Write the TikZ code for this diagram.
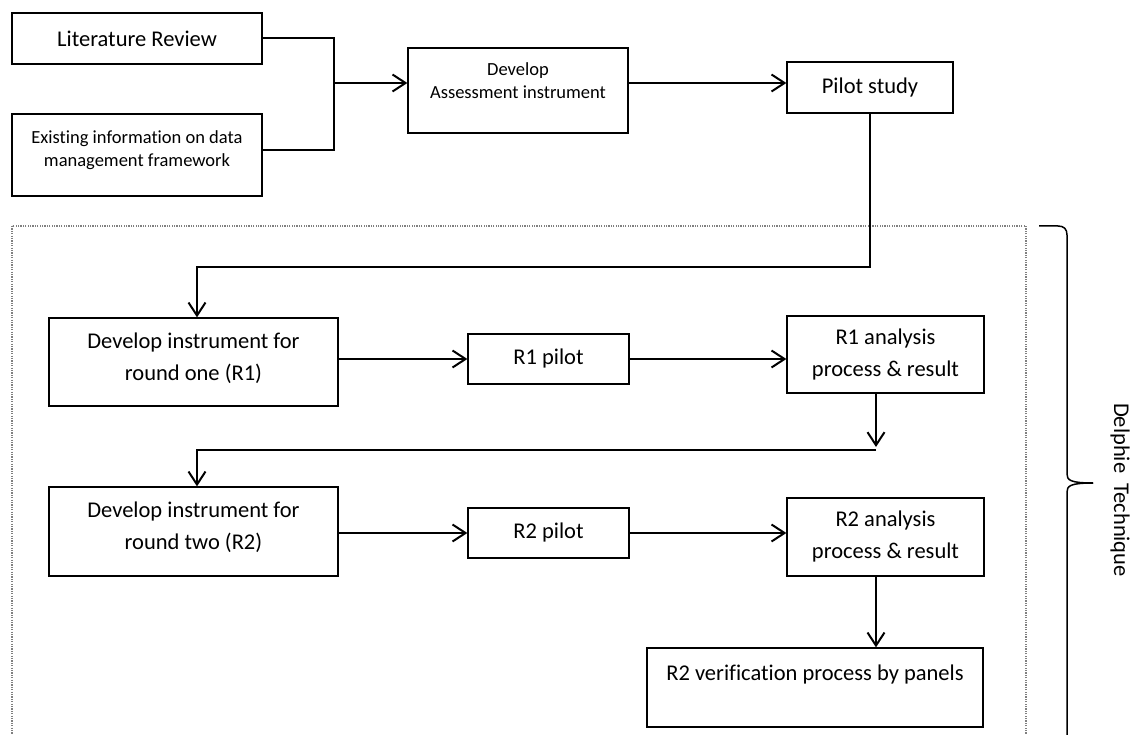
\documentclass[tikz,border=0pt]{standalone}
\usepackage{fontspec}
\setmainfont{Carlito}[Ligatures=NoCommon]
\usetikzlibrary{arrows.meta}

\tikzset{
  box/.style={draw, line width=1.3pt, inner sep=0pt, align=center, font=\fontsize{22.5}{32}\selectfont},
  smallbox/.style={box, font=\fontsize{18.5}{23}\selectfont},
  plain/.style={line width=2pt},
  link/.style={line width=2pt, -{Straight Barb[length=13pt,width=17pt]}},
  frame/.style={draw=gray, line width=1.1pt, dash pattern=on 1.2pt off 1.2pt},
}
% zero-width strut that pushes the text to the top of its box
\newcommand{\pushup}[1]{\rule[-#1]{0pt}{0pt}}

\begin{document}
\begin{tikzpicture}[x=1pt,y=-1pt]
\useasboundingbox (0,0) rectangle (1136,735);

% top row
\node[box, minimum width=250pt, minimum height=51pt] (lit) at (137,38.5) {Literature Review};
\node[smallbox, minimum width=250pt, minimum height=82pt] (exist) at (137,155) {Existing information on data\\management framework\pushup{13pt}};
\node[smallbox, minimum width=220pt, minimum height=85pt] (dev) at (518,90.5) {Develop\\Assessment instrument\pushup{19pt}};
\node[box, minimum width=166pt, minimum height=51pt] (pilot) at (870,87.5) {Pilot study};

% Delphi part
\draw[frame] (12,226) rectangle (1026,760);
\node[box, minimum width=289pt, minimum height=88pt] (devA) at (193.5,362) {Develop instrument for\\round one (R1)\pushup{10pt}};
\node[box, minimum width=161pt, minimum height=50pt] (pilotA) at (548.5,359) {R1 pilot};
\node[box, minimum width=197pt, minimum height=77pt] (anaA) at (885.5,354.5) {R1 analysis\\process \& result};
\node[box, minimum width=289pt, minimum height=89pt] (devB) at (193.5,531.5) {Develop instrument for\\round two (R2)\pushup{12pt}};
\node[box, minimum width=161pt, minimum height=50pt] (pilotB) at (548.5,533) {R2 pilot};
\node[box, minimum width=197pt, minimum height=78pt] (anaB) at (885.5,537) {R2 analysis\\process \& result};
\node[box, minimum width=336pt, minimum height=79pt] (verif) at (815,687.5) {R2 verification process by panels\pushup{30pt}};

\coordinate (merge) at (334,83);
\coordinate (dropA) at (197,267);
\coordinate (turnB) at (876,450);
\coordinate (dropB) at (197,450);

\draw[plain] (lit.east) -| (merge) |- ([yshift=5pt]exist.east);
\draw[link] (merge) -- (merge -| dev.west);
\draw[link] (dev.east |- merge) -- (merge -| pilot.west);
\draw[link] (pilot.south) |- (dropA) -- (dropA |- devA.north);

\draw[link] (devA.east |- pilotA) -- (pilotA.west);
\draw[link] (pilotA.east) -- (pilotA.east -| anaA.west);
\draw[link] (turnB |- anaA.south) -- ([yshift=3pt]turnB);
\draw[link] (turnB) -- (dropB) -- (dropB |- devB.north);

\draw[link] (devB.east |- pilotB) -- (pilotB.west);
\draw[link] (pilotB.east) -- (pilotB.east -| anaB.west);
\draw[link] (turnB |- anaB.south) -- (turnB |- verif.north);

% brace
\draw[line width=1.5pt] (1039,226) -- (1058,226) .. controls (1064,226) and (1067,229) .. (1067,235)
  -- (1067,474) .. controls (1067,480) and (1070,483) .. (1093,483);
\draw[line width=1.5pt] (1093,483) .. controls (1070,483) and (1067,486) .. (1067,492) -- (1067,745);
\node[rotate=-90, font=\fontsize{22.5}{26}\selectfont] (delphi) at (1120,490) {Delphie\ \ Technique};
\end{tikzpicture}
\end{document}
